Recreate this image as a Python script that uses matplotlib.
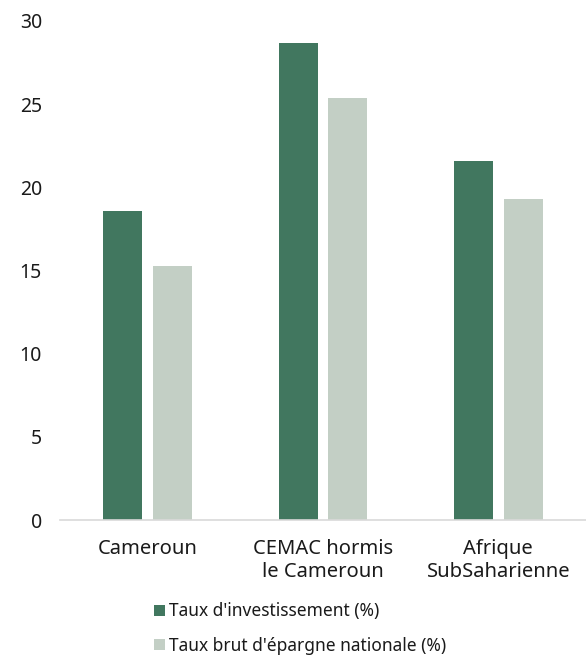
import matplotlib
matplotlib.use("Agg")
import matplotlib.pyplot as plt
from matplotlib.patches import Patch
import numpy as np

categories = ["Cameroun", "CEMAC hormis\nle Cameroun", "Afrique\nSubSaharienne"]
investissement = [18.6, 28.7, 21.6]
epargne = [15.3, 25.4, 19.3]
series_names = ["Taux d'investissement (%)", "Taux brut d'épargne nationale (%)"]
y_ticks = [0, 5, 10, 15, 20, 25, 30]

dark = "#41775F"
light = "#C3CFC5"

plt.rcParams["font.family"] = ["Noto Sans", "DejaVu Sans"]

fig = plt.figure(figsize=(5.86, 6.58), dpi=100)
ax = fig.add_axes([60 / 586, (658 - 520) / 658, 526 / 586, 499 / 658])

x = np.arange(len(categories))
w = 0.222
ax.bar(x - 0.141, investissement, width=w, color=dark)
ax.bar(x + 0.141, epargne, width=w, color=light)

ax.set_xlim(-0.5, 2.5)
ax.set_ylim(0, 30)
ax.set_yticks(y_ticks)
ax.set_xticks(x)
ax.set_xticklabels(categories, fontsize=14.5, color="#1a1a1a", linespacing=1.2)
ax.tick_params(axis="y", length=0, pad=13, labelsize=14, labelcolor="#1a1a1a")
ax.tick_params(axis="x", length=0, pad=14)
for s in ["top", "right", "left"]:
    ax.spines[s].set_visible(False)
ax.spines["bottom"].set_color("#D9D9D9")
ax.spines["bottom"].set_linewidth(1.2)

handles = [Patch(facecolor=dark), Patch(facecolor=light)]
fig.legend(handles, series_names, loc="upper left",
           bbox_to_anchor=(151 / 586, 1 - 599 / 658), frameon=False,
           fontsize=12.5, handlelength=0.6, handleheight=0.6,
           handletextpad=0.25, labelspacing=0.93, labelcolor="#1a1a1a",
           borderaxespad=0, borderpad=0.2)

fig.savefig("out.png", dpi=100, facecolor="white")
